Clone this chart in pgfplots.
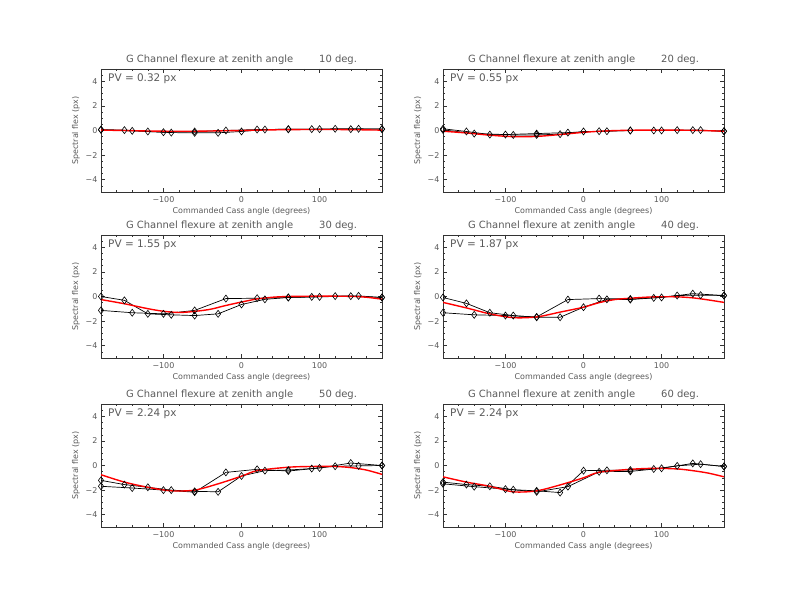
\documentclass[border=0pt]{standalone}
\usepackage{fontspec}
\setmainfont{DejaVu Sans}
\usepackage{pgfplots}
\pgfplotsset{compat=1.18}

\definecolor{txt}{RGB}{90,90,90}

\pgfplotsset{
  panel/.style={
    scale only axis, width=281bp, height=123bp, anchor=south west,
    xmin=-180, xmax=180, ymin=-5, ymax=5,
    xtick={-100,0,100}, xticklabels={−100,0,100},
    ytick={-4,-2,0,2,4}, yticklabels={−4,−2,0,2,4},
    minor xtick={-180,-160,...,180},
    minor ytick={-5,-4.5,...,5},
    major tick length=4bp, minor tick length=2bp,
    axis line style={black!80, line width=0.6pt},
    every tick/.style={black!80, line width=0.5pt},
    tick label style={font=\fontsize{8}{9}\selectfont, text=txt},
    xticklabel style={yshift=-1.5bp},
    label style={font=\fontsize{8}{9}\selectfont, text=txt},
    xlabel={Commanded Cass angle (degrees)},
    ylabel={Spectral flex (px)},
    xlabel style={yshift=2bp},
    ylabel style={yshift=-1bp},
    title style={font=\fontsize{10}{12}\selectfont, text=txt, yshift=-5bp},
    clip=true,
  },
  dat/.style={black, line width=0.7pt, mark=diamond, mark size=3.5bp,
    mark options={fill=white, line width=0.6pt}},
  fit/.style={red, line width=1.4pt, smooth, no marks},
}

\newcommand{\pv}[1]{\node[anchor=north west, font=\fontsize{10.5}{12}\selectfont, text=txt, inner sep=0pt]
  at (rel axis cs:0.025,0.965) {PV = #1 px};}

\begin{document}
\begin{tikzpicture}
\path[use as bounding box] (0,0) rectangle (792bp,612bp);

% 10 deg
\begin{axis}[panel, at={(101bp,420bp)},
  title={G Channel flexure at zenith angle\hspace{2.6em}10 deg.}]
\addplot[dat] coordinates {(-180,0.08) (-150,0.03) (-120,-0.08) (-90,-0.17) (-60,-0.19) (-30,-0.19) (0,-0.08) (30,0.08) (60,0.11) (90,0.11) (120,0.14) (150,0.14) (180,0.11)};
\addplot[dat] coordinates {(-180,0.05) (-140,-0.03) (-100,-0.14) (-60,-0.08) (-20,0.0) (20,0.08) (60,0.10) (100,0.11) (140,0.11) (180,0.12)};
\addplot[fit] coordinates {(-180,0.03) (-150,0.0) (-120,-0.04) (-90,-0.06) (-60,-0.06) (-30,-0.03) (0,0.0) (30,0.04) (60,0.07) (90,0.08) (120,0.08) (150,0.06) (180,0.03)};
\pv{0.32}
\end{axis}

% 20 deg
\begin{axis}[panel, at={(443bp,420bp)},
  title={G Channel flexure at zenith angle\hspace{2.6em}20 deg.}]
\addplot[dat] coordinates {(-180,0.14) (-150,-0.08) (-120,-0.33) (-90,-0.36) (-60,-0.36) (-30,-0.30) (0,-0.08) (30,-0.06) (60,0.0) (90,0.0) (120,0.03) (150,0.03) (180,-0.06)};
\addplot[dat] coordinates {(-180,0.05) (-140,-0.25) (-100,-0.33) (-60,-0.25) (-20,-0.17) (20,-0.06) (60,0.0) (100,0.0) (140,0.03) (180,-0.06)};
\addplot[fit] coordinates {(-180,-0.06) (-150,-0.2) (-120,-0.38) (-90,-0.5) (-60,-0.48) (-30,-0.33) (0,-0.15) (30,-0.03) (60,0.02) (90,0.03) (120,0.03) (150,0.0) (180,-0.06)};
\pv{0.55}
\end{axis}

% 30 deg
\begin{axis}[panel, at={(101bp,254bp)},
  title={G Channel flexure at zenith angle\hspace{2.6em}30 deg.}]
\addplot[dat] coordinates {(-180,0.0) (-150,-0.31) (-120,-1.41) (-90,-1.49) (-60,-1.55) (-30,-1.41) (0,-0.65) (30,-0.23) (60,-0.08) (90,-0.03) (120,0.03) (150,0.05) (180,-0.08)};
\addplot[dat] coordinates {(-180,-1.13) (-140,-1.32) (-100,-1.41) (-60,-1.13) (-20,-0.17) (20,-0.14) (60,-0.08) (100,-0.03) (140,0.03) (180,-0.08)};
\addplot[fit] coordinates {(-180,-0.25) (-150,-0.59) (-120,-0.99) (-100,-1.2) (-80,-1.3) (-60,-1.21) (-40,-1.04) (-20,-0.73) (0,-0.45) (20,-0.2) (40,-0.06) (60,0.0) (100,0.03) (140,0.01) (160,-0.06) (180,-0.22)};
\pv{1.55}
\end{axis}

% 40 deg
\begin{axis}[panel, at={(443bp,254bp)},
  title={G Channel flexure at zenith angle\hspace{2.6em}40 deg.}]
\addplot[dat] coordinates {(-180,-0.08) (-150,-0.56) (-120,-1.32) (-90,-1.55) (-60,-1.69) (-30,-1.69) (0,-0.87) (30,-0.23) (60,-0.25) (90,-0.11) (120,0.08) (150,0.11) (180,0.08)};
\addplot[dat] coordinates {(-180,-1.32) (-140,-1.49) (-100,-1.55) (-60,-1.66) (-20,-0.25) (20,-0.17) (60,-0.20) (100,-0.08) (140,0.23) (180,0.08)};
\addplot[fit] coordinates {(-180,-0.48) (-150,-0.93) (-120,-1.41) (-90,-1.72) (-60,-1.66) (-30,-1.27) (0,-0.87) (20,-0.5) (40,-0.25) (60,-0.14) (90,-0.03) (120,-0.03) (140,-0.11) (160,-0.28) (180,-0.48)};
\pv{1.87}
\end{axis}

% 50 deg
\begin{axis}[panel, at={(101bp,85bp)},
  title={G Channel flexure at zenith angle\hspace{2.6em}50 deg.}]
\addplot[dat] coordinates {(-180,-1.21) (-150,-1.55) (-120,-1.77) (-90,-2.0) (-60,-2.10) (-30,-2.14) (0,-0.85) (30,-0.42) (60,-0.37) (90,-0.25) (120,-0.06) (150,-0.03) (180,0.0)};
\addplot[dat] coordinates {(-180,-1.69) (-140,-1.83) (-100,-2.0) (-60,-2.17) (-20,-0.56) (20,-0.31) (60,-0.45) (100,-0.20) (140,0.20) (180,0.0)};
\addplot[fit] coordinates {(-180,-0.75) (-150,-1.35) (-120,-1.77) (-90,-2.06) (-60,-2.0) (-30,-1.49) (0,-0.87) (20,-0.42) (60,-0.14) (90,-0.08) (120,-0.08) (140,-0.17) (160,-0.37) (180,-0.72)};
\pv{2.24}
\end{axis}

% 60 deg
\begin{axis}[panel, at={(443bp,85bp)},
  title={G Channel flexure at zenith angle\hspace{2.6em}60 deg.}]
\addplot[dat] coordinates {(-180,-1.35) (-150,-1.55) (-120,-1.69) (-90,-1.97) (-60,-2.06) (-30,-2.20) (0,-0.42) (30,-0.39) (60,-0.37) (90,-0.28) (120,-0.03) (150,0.11) (180,-0.08)};
\addplot[dat] coordinates {(-180,-1.49) (-140,-1.72) (-100,-1.92) (-60,-2.14) (-20,-1.72) (20,-0.51) (60,-0.48) (100,-0.23) (140,0.17) (180,-0.08)};
\addplot[fit] coordinates {(-180,-0.92) (-150,-1.35) (-120,-1.69) (-90,-2.14) (-60,-2.06) (-30,-1.58) (0,-1.0) (20,-0.55) (60,-0.31) (90,-0.23) (120,-0.28) (140,-0.42) (160,-0.62) (180,-0.92)};
\pv{2.24}
\end{axis}

\end{tikzpicture}
\end{document}
